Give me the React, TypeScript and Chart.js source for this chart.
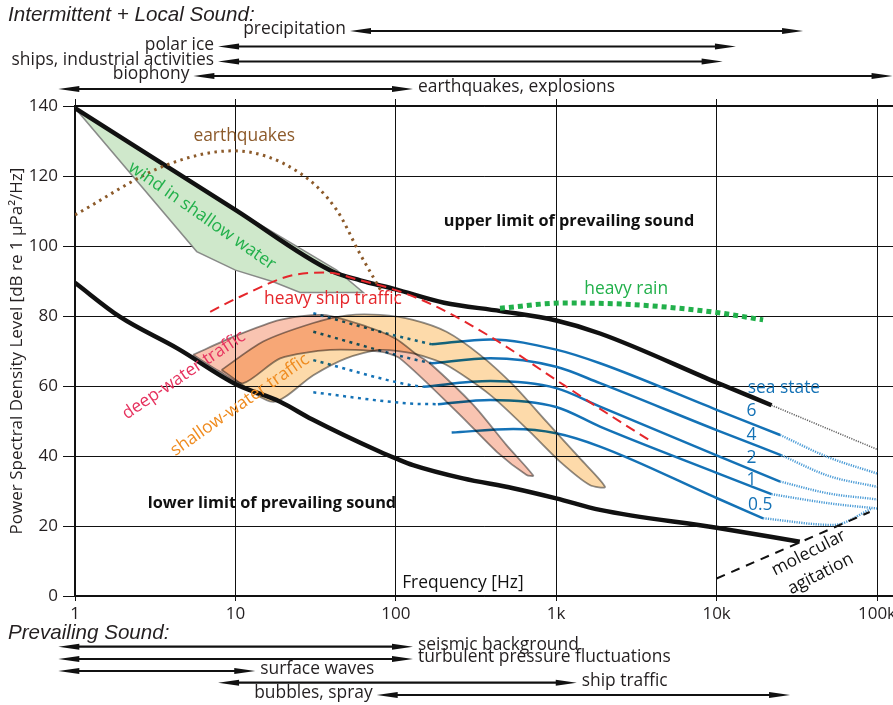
import React, { useEffect, useRef } from 'react';
import { Chart, registerables } from 'chart.js';

type Pt = [number, number]; // [frequency in Hz, level in dB re 1 µPa²/Hz]

// ---------- axes ----------
const X_TICKS = [1, 10, 100, 1000, 10000, 100000];
const X_TICK_LABELS = ['1', '10', '100', '1k', '10k', '100k'];
const Y_TICKS = [0, 20, 40, 60, 80, 100, 120, 140];

// ---------- prevailing-sound limits ----------
const upperLimit: Pt[] = [[1, 139.4], [10, 110.3], [40, 92.8], [60, 90.2], [100, 87.6], [200, 83.8], [450, 81.4], [1000, 78.7], [1876, 75], [10000, 61], [22000, 54.5]];
const upperLimitExtension: Pt[] = [[22000, 54.5], [100000, 41.9]];
const lowerLimit: Pt[] = [[1, 89.5], [1.9, 79.8], [4.4, 70.6], [10, 60.6], [19, 55.5], [30, 50.5], [79.7, 41.2], [100, 39.3], [128, 37.4], [262, 33.6], [539, 30.8], [1000, 27.9], [1876, 24.6], [10000, 19.5], [33000, 15.5]];
const molecularAgitation: Pt[] = [[10000, 5], [90000, 24]];

// ---------- intermittent sources ----------
const earthquakes: Pt[] = [[1, 108.9], [3.7, 123.1], [9.7, 127.2], [25.3, 120.8], [42.8, 110.3], [59.6, 97.9], [81.6, 86.9]];
const heavyShipTraffic: Pt[] = [[6.96, 81.2], [10.7, 85.5], [23, 91.7], [37, 92.4], [60, 90.2], [100, 87.4], [171, 83.1], [405, 73.6], [1000, 61.7], [2500, 49.8], [3940, 44.1]];
const heavyRain: Pt[] = [[446, 82.2], [1100, 83.7], [2000, 83.6], [4436, 82.7], [10000, 81], [19500, 78.9]];

// ---------- bands (edges listed low to high frequency) ----------
const windUpper: Pt[] = [[1, 139.4], [10, 110.3], [42.8, 93.1], [62.7, 86.7]];
const windLower: Pt[] = [[1, 120], [5.74, 98.4], [10, 93.1], [17.2, 89.8], [25.3, 86.7], [62.7, 86.7]];
const deepUpper: Pt[] = [[5.44, 68.9], [10, 74.3], [19, 78.9], [35.2, 80.3], [65.7, 77], [100, 73.5], [135, 69], [163, 66.5], [304, 54.6], [490, 43.1], [719, 34.4]];
const deepLower: Pt[] = [[5.44, 68.9], [8.0, 64.1], [11.2, 60.8], [19, 67.9], [38.9, 70.3], [79.7, 69.8], [106, 67.9], [252, 51.7], [426, 41.2], [654, 34.6], [719, 34.4]];
const shallowUpper: Pt[] = [[8.2, 64.6], [14.9, 72.7], [30.6, 78], [50, 80.2], [79.7, 80.3], [128, 78.9], [207, 75.5], [335, 68.9], [539, 60.3], [870, 49.8], [1407, 39.3], [2015, 31.2]];
const shallowLower: Pt[] = [[8.2, 64.6], [17.2, 55.5], [30.6, 63.1], [49, 67.9], [79.7, 70.3], [128, 69.3], [207, 66], [389, 57.4], [686, 46.9], [1056, 38.4], [1620, 31.7], [2015, 31.2]];

// ---------- wind-driven noise by sea state ----------
const SEA_STATES = ['6', '4', '2', '1', '0.5'];
const seaStateLow: Pt[][] = [
  [[30.6, 80.8], [80, 75.5], [168, 71.9]],
  [[30.6, 75.5], [122, 67.9], [168, 66.5]],
  [[30.6, 67.4], [122, 60.3], [148, 59.8]],
  [[30.6, 58.2], [122, 55], [183, 54.8]],
];
const seaStateMain: Pt[][] = [
  [[168, 71.9], [389, 73.3], [1000, 70.4], [1876, 66.5], [10000, 53.2], [24900, 46]],
  [[168, 66.5], [389, 67.9], [1000, 65.5], [1876, 60.8], [10000, 47.4], [25400, 40.2]],
  [[148, 59.8], [389, 61.4], [1000, 59.4], [1876, 54.1], [10000, 40.2], [24900, 32.7]],
  [[183, 54.8], [389, 56], [1000, 54], [1876, 48.4], [10000, 35.2], [22000, 29.1]],
  [[223, 46.7], [539, 47.7], [1000, 46.5], [1876, 42.7], [10000, 28], [19500, 22.2]],
];
const seaStateHigh: Pt[][] = [
  [[24900, 46], [50000, 39.6], [100000, 35]],
  [[25400, 40.2], [50000, 34.3], [100000, 31.2]],
  [[24900, 32.7], [50000, 29.3], [100000, 27.6]],
  [[22000, 29.1], [50000, 26.5], [100000, 25]],
  [[19500, 22.2], [53400, 20.3], [93000, 25]],
];

// ---------- frequency ranges of the source classes ----------
const INTERMITTENT_NAMES = ['precipitation', 'polar ice', 'ships, industrial activities', 'biophony', 'earthquakes, explosions'];
const INTERMITTENT_RANGES: Pt[] = [[51.8, 34600], [7.8, 13200], [7.8, 10900], [5.47, 125000], [0.787, 128]];
const PREVAILING_NAMES = ['seismic background', 'turbulent pressure fluctuations', 'surface waves', 'ship traffic', 'bubbles, spray'];
const PREVAILING_RANGES: Pt[] = [[0.787, 128], [0.787, 128], [0.787, 13.3], [7.8, 1343], [76, 28700]];

// ---------- styling ----------
const SANS = "'Open Sans', 'Noto Sans', sans-serif";
const HELV = "'Liberation Sans', Arial, sans-serif";
const INK = '#231f20';
const BLUE = '#1472b6';
const BLUE_LIGHT = '#4a9bd6';
const RED = '#e5262b';
const BROWN = '#8c5a2a';
const GREEN = '#22b04b';
const CRIMSON = '#e6335f';
const ORANGE = '#ef8b1f';
const EDGE = 'rgba(120,120,120,0.85)';
const LABEL_SIZE = 17.4;

// log axis upper bound so that 100k lands 16 px short of the right edge
const X_MAX = Math.pow(10, (5 * 818) / 802);

const toXY = (pts: Pt[]) => pts.map(([x, y]) => ({ x, y }));

const curve = (pts: Pt[], style: Record<string, unknown>, order: number) => ({
  data: toXY(pts),
  pointRadius: 0,
  pointHoverRadius: 0,
  fill: false,
  cubicInterpolationMode: 'monotone',
  borderCapStyle: 'butt',
  order,
  ...style,
});

const band = (upper: Pt[], lower: Pt[], style: Record<string, unknown>, order: number) => {
  const ring = [...upper, ...lower.slice(1, -1).reverse(), upper[0]];
  return {
    data: toXY(ring),
    pointRadius: 0,
    pointHoverRadius: 0,
    fill: 'shape',
    order,
    ...style,
  };
};

// Blend mode switch for the traffic bands (registered ahead of the filler so it wraps the fill)
const bandBlend = {
  id: 'bandBlend',
  beforeDatasetDraw(chart: any, args: any) {
    const ds = chart.data.datasets[args.index];
    if (ds && ds.blend) {
      chart.ctx.save();
      chart.ctx.globalCompositeOperation = ds.blend;
    }
  },
  afterDatasetDraw(chart: any, args: any) {
    const ds = chart.data.datasets[args.index];
    if (ds && ds.blend) chart.ctx.restore();
  },
};
Chart.register(bandBlend, ...registerables);

type Label = { text: string; f: number; db: number; color?: string; rot?: number; bold?: boolean };
const PLOT_LABELS: Label[] = [
  { text: 'earthquakes', f: 11.35, db: 131.4, color: BROWN },
  { text: 'wind in shallow water', f: 6.19, db: 108.6, color: GREEN, rot: 35 },
  { text: 'upper limit of prevailing sound', f: 1202, db: 107.1, bold: true },
  { text: 'lower limit of prevailing sound', f: 16.9, db: 26.6, bold: true },
  { text: 'heavy ship traffic', f: 40.6, db: 84.9, color: RED },
  { text: 'heavy rain', f: 2731, db: 87.7, color: GREEN },
  { text: 'deep-water traffic', f: 4.77, db: 63.1, color: CRIMSON, rot: -34 },
  { text: 'shallow-water traffic', f: 10.67, db: 54.6, color: ORANGE, rot: -35 },
  { text: 'sea state', f: 26300, db: 59.4, color: BLUE },
  { text: 'molecular', f: 37500, db: 12.3, rot: -27 },
  { text: 'agitation', f: 44500, db: 6.3, rot: -27 },
  { text: 'Frequency [Hz]', f: 262, db: 3.7 },
];
const SEA_STATE_LABEL_AT: Pt[] = [[16500, 52.9], [16500, 46], [16500, 39.5], [16500, 33.1], [18700, 26]];

const drawArrow = (ctx: CanvasRenderingContext2D, x1: number, x2: number, y: number) => {
  const head = 21;
  const hw = 3;
  ctx.beginPath();
  ctx.moveTo(x1 + head * 0.7, y);
  ctx.lineTo(x2 - head * 0.7, y);
  ctx.lineWidth = 2.2;
  ctx.stroke();
  ctx.beginPath();
  ctx.moveTo(x1, y);
  ctx.lineTo(x1 + head, y - hw);
  ctx.lineTo(x1 + head, y + hw);
  ctx.closePath();
  ctx.fill();
  ctx.beginPath();
  ctx.moveTo(x2, y);
  ctx.lineTo(x2 - head, y - hw);
  ctx.lineTo(x2 - head, y + hw);
  ctx.closePath();
  ctx.fill();
};

const annotations = {
  id: 'annotations',
  afterDraw(chart: any) {
    const { ctx, chartArea } = chart;
    const xs = chart.scales.x;
    const ys = chart.scales.y;
    ctx.save();
    ctx.textBaseline = 'middle';

    for (const l of PLOT_LABELS) {
      ctx.save();
      ctx.translate(xs.getPixelForValue(l.f), ys.getPixelForValue(l.db));
      if (l.rot) ctx.rotate((l.rot * Math.PI) / 180);
      ctx.font = l.bold ? `bold 16.3px ${SANS}` : `${LABEL_SIZE}px ${SANS}`;
      ctx.fillStyle = l.color || '#111';
      ctx.textAlign = 'center';
      ctx.fillText(l.text, 0, 0);
      ctx.restore();
    }
    SEA_STATES.forEach((s, i) => {
      const [f, db] = SEA_STATE_LABEL_AT[i];
      ctx.font = `${LABEL_SIZE}px ${SANS}`;
      ctx.fillStyle = BLUE;
      ctx.textAlign = 'center';
      ctx.fillText(s, xs.getPixelForValue(f), ys.getPixelForValue(db));
    });

    // section headings
    ctx.fillStyle = INK;
    ctx.textAlign = 'left';
    ctx.font = `italic 20.6px ${HELV}`;
    ctx.fillText('Intermittent + Local Sound:', 8, chartArea.top - 91);
    ctx.fillText('Prevailing Sound:', 8, chartArea.bottom + 37);

    // range arrows
    ctx.strokeStyle = '#111';
    ctx.fillStyle = '#111';
    const topRows = [-75, -59.5, -44.5, -30, -17].map((d) => chartArea.top + d);
    const bottomRows = [50.7, 63, 75, 86.7, 99].map((d) => chartArea.bottom + d);
    const rangeRows = (names: string[], ranges: Pt[], rows: number[], labelLeft: boolean[]) => {
      names.forEach((name, i) => {
        const [f1, f2] = ranges[i];
        const x1 = xs.getPixelForValue(f1);
        const x2 = xs.getPixelForValue(f2);
        const y = rows[i];
        drawArrow(ctx, x1, x2, y);
        ctx.font = `${LABEL_SIZE}px ${SANS}`;
        ctx.fillStyle = INK;
        if (labelLeft[i]) {
          ctx.textAlign = 'right';
          ctx.fillText(name, x1 - 4, y - 1.5);
        } else {
          ctx.textAlign = 'left';
          ctx.fillText(name, x2 + 5, y - 1.5);
        }
        ctx.fillStyle = '#111';
      });
    };
    rangeRows(INTERMITTENT_NAMES, INTERMITTENT_RANGES, topRows, [true, true, true, true, false]);
    rangeRows(PREVAILING_NAMES, PREVAILING_RANGES, bottomRows, [false, false, false, false, true]);
    ctx.restore();
  },
};

const buildDatasets = () => {
  const ds: any[] = [];
  ds.push(band(windUpper, windLower, { backgroundColor: '#cfe8cb', borderColor: EDGE, borderWidth: 1.5, tension: 0 }, 100));
  seaStateLow.forEach((pts) => ds.push(curve(pts, { borderColor: BLUE, borderWidth: 2.5, borderDash: [3, 4.5] }, 90)));
  seaStateMain.forEach((pts) => ds.push(curve(pts, { borderColor: BLUE, borderWidth: 2.5 }, 90)));
  seaStateHigh.forEach((pts) => ds.push(curve(pts, { borderColor: BLUE_LIGHT, borderWidth: 2.4, borderDash: [1.2, 1.2] }, 90)));
  ds.push(band(deepUpper, deepLower, { backgroundColor: '#f9c4b1', borderColor: EDGE, borderWidth: 1.8, tension: 0.25, blend: 'multiply' }, 80));
  ds.push(band(shallowUpper, shallowLower, { backgroundColor: '#fddaaa', borderColor: EDGE, borderWidth: 1.8, tension: 0.25, blend: 'multiply' }, 79));
  ds.push(curve(upperLimitExtension, { borderColor: '#666', borderWidth: 1.6, borderDash: [1.2, 1.2] }, 70));
  ds.push(curve(molecularAgitation, { borderColor: '#111', borderWidth: 2, borderDash: [9, 7] }, 70));
  ds.push(curve(upperLimit, { borderColor: '#111', borderWidth: 4.5 }, 50));
  ds.push(curve(lowerLimit, { borderColor: '#111', borderWidth: 4.5 }, 50));
  ds.push(curve(earthquakes, { borderColor: BROWN, borderWidth: 3, borderDash: [2.5, 4.5] }, 45));
  ds.push(curve(heavyShipTraffic, { borderColor: RED, borderWidth: 2, borderDash: [10, 6] }, 40));
  ds.push(curve(heavyRain, { borderColor: GREEN, borderWidth: 5, borderDash: [5, 4] }, 30));
  return ds;
};

const decadeTicks = (scale: any) => {
  scale.ticks = X_TICKS.map((value) => ({ value }));
};

export default function App() {
  const canvasRef = useRef<HTMLCanvasElement>(null);

  useEffect(() => {
    if (!canvasRef.current) return;
    const chart = new Chart(canvasRef.current, {
      type: 'line',
      data: { datasets: buildDatasets() },
      options: {
        responsive: false,
        animation: false,
        layout: { padding: 0 },
        plugins: { legend: { display: false }, tooltip: { enabled: false } },
        scales: {
          x: {
            type: 'logarithmic',
            position: 'bottom',
            min: 1,
            max: X_MAX,
            afterBuildTicks: decadeTicks,
            afterFit: (s: any) => {
              s.height = 109;
              s.paddingLeft = 0;
              s.paddingRight = 0;
            },
            ticks: {
              autoSkip: false,
              maxRotation: 0,
              padding: 3,
              color: INK,
              font: { family: SANS, size: 17 },
              callback: (v: any) => X_TICK_LABELS[X_TICKS.indexOf(Number(v))] ?? '',
            },
            grid: { color: '#111', lineWidth: 1, tickLength: 5 },
            border: { color: '#111', width: 1.2 },
          },
          xTop: {
            type: 'logarithmic',
            position: 'top',
            min: 1,
            max: X_MAX,
            afterBuildTicks: decadeTicks,
            afterFit: (s: any) => {
              s.height = 106;
              s.paddingLeft = 0;
              s.paddingRight = 0;
            },
            ticks: { display: false },
            grid: { drawOnChartArea: false, color: '#111', tickLength: 7 },
            border: { color: '#111', width: 1.2 },
          },
          y: {
            type: 'linear',
            min: 0,
            max: 140,
            afterBuildTicks: (s: any) => {
              s.ticks = Y_TICKS.map((value) => ({ value }));
            },
            afterFit: (s: any) => {
              s.width = 75;
              s.paddingTop = 0;
              s.paddingBottom = 0;
            },
            ticks: { padding: 5, color: INK, font: { family: SANS, size: 17 } },
            grid: { color: '#111', lineWidth: 1, tickLength: 12 },
            border: { color: '#111', width: 1.2 },
            title: {
              display: true,
              text: 'Power Spectral Density Level [dB re 1 µPa²/Hz]',
              color: INK,
              font: { family: SANS, size: 17 },
              padding: { top: 7, bottom: 0 },
            },
          },
        },
      },
      plugins: [annotations],
    } as any);
    return () => chart.destroy();
  }, []);

  return (
    <div style={{ position: 'absolute', left: 0, top: 0, width: 893, height: 705, background: '#fff' }}>
      <canvas ref={canvasRef} width={893} height={705} style={{ display: 'block', width: 893, height: 705 }} />
    </div>
  );
}
